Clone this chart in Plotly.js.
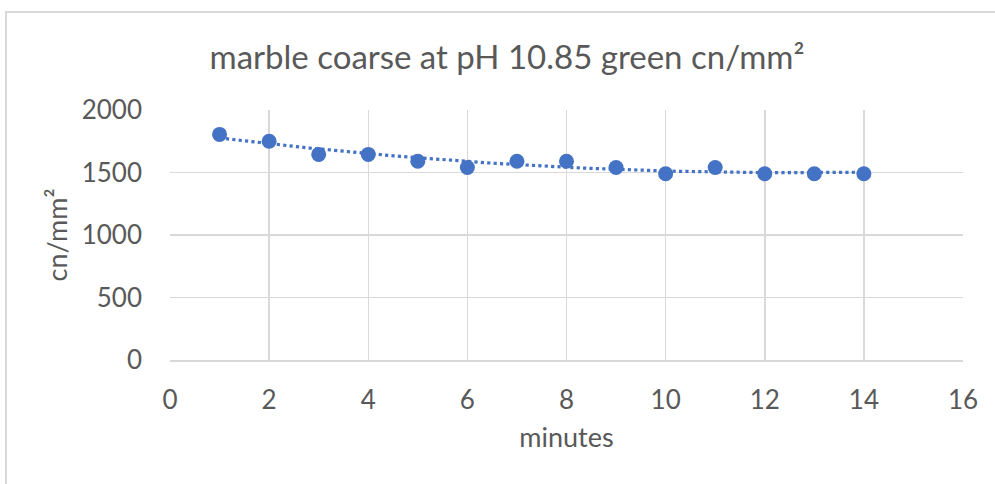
<!DOCTYPE html>
<html>
<head>
<meta charset="utf-8">
<script src="https://cdn.plot.ly/plotly-3.0.1.min.js"></script>
<style>
  html, body { margin: 0; padding: 0; background: #ffffff; }
  #wrap { position: relative; width: 995px; height: 484px; overflow: hidden; }
  #chart { position: absolute; left: 0; top: 0; width: 995px; height: 484px; }
  #frame { position: absolute; left: 5px; top: 11px; width: 1100px; height: 600px;
           border-left: 2px solid #d9d9d9; border-top: 2px solid #d9d9d9; pointer-events: none; }
</style>
</head>
<body>
<div id="wrap">
  <div id="chart"></div>
  <div id="frame"></div>
</div>
<script>
// Measurements: minutes vs. count density (cn/mm²)
const minutes = [1, 2, 3, 4, 5, 6, 7, 8, 9, 10, 11, 12, 13, 14];
const density = [1805, 1750, 1645, 1645, 1590, 1540, 1590, 1590, 1540, 1490, 1540, 1490, 1490, 1490];

const xTicks = [0, 2, 4, 6, 8, 10, 12, 14, 16];
const yTicks = [0, 500, 1000, 1500, 2000];

const chartTitle = 'marble coarse at pH 10.85 green cn/mm²';
const xTitle = 'minutes';
const yTitle = 'cn/mm²';

// Second-order polynomial least-squares fit (trendline)
function polyFit2(xs, ys) {
  let s0 = xs.length, s1 = 0, s2 = 0, s3 = 0, s4 = 0, t0 = 0, t1 = 0, t2 = 0;
  for (let i = 0; i < xs.length; i++) {
    const x = xs[i], y = ys[i];
    s1 += x; s2 += x * x; s3 += x * x * x; s4 += x * x * x * x;
    t0 += y; t1 += x * y; t2 += x * x * y;
  }
  // Solve 3x3 normal equations with Cramer's rule
  const det = (m) => m[0][0] * (m[1][1] * m[2][2] - m[1][2] * m[2][1])
                   - m[0][1] * (m[1][0] * m[2][2] - m[1][2] * m[2][0])
                   + m[0][2] * (m[1][0] * m[2][1] - m[1][1] * m[2][0]);
  const A = [[s0, s1, s2], [s1, s2, s3], [s2, s3, s4]];
  const B = [t0, t1, t2];
  const D = det(A);
  const coef = [0, 1, 2].map(c => det(A.map((row, r) => row.map((v, k) => k === c ? B[r] : v))) / D);
  return x => coef[0] + coef[1] * x + coef[2] * x * x;
}

const fit = polyFit2(minutes, density);
const xMin = minutes[0], xMax = minutes[minutes.length - 1];
const trendX = [], trendY = [];
for (let i = 0; i <= 100; i++) {
  const x = xMin + (xMax - xMin) * i / 100;
  trendX.push(x);
  trendY.push(fit(x));
}

const blue = '#4472c4';
const textGrey = '#595959';
const gridGrey = '#d9d9d9';
const fontFamily = 'Lato, "Open Sans", sans-serif';

const traces = [
  {
    x: trendX, y: trendY, type: 'scatter', mode: 'lines',
    line: { color: blue, width: 3.2, dash: 'dot' },
    hoverinfo: 'skip', showlegend: false
  },
  {
    x: minutes, y: density, type: 'scatter', mode: 'markers',
    marker: { color: blue, size: 15, line: { width: 0 } },
    showlegend: false
  }
];

const layout = {
  width: 995, height: 484,
  margin: { l: 170, r: 32, t: 110, b: 124 },
  paper_bgcolor: 'rgba(0,0,0,0)',
  plot_bgcolor: '#ffffff',
  font: { family: fontFamily, color: textGrey, size: 26 },
  title: {
    text: chartTitle,
    font: { family: fontFamily, size: 33, color: textGrey },
    xref: 'container', yref: 'container',
    x: 507 / 995, xanchor: 'center',
    y: 1 - 57 / 484, yanchor: 'middle'
  },
  xaxis: {
    range: [0, 16], tickmode: 'array', tickvals: xTicks,
    showgrid: true, gridcolor: gridGrey, gridwidth: 1.5,
    zeroline: false, showline: true, linecolor: gridGrey, linewidth: 1.5,
    ticks: '', ticklabelstandoff: 16,
    tickfont: { family: fontFamily, size: 26, color: textGrey },
    title: { text: xTitle, font: { family: fontFamily, size: 27, color: textGrey }, standoff: 14 },
    fixedrange: true
  },
  yaxis: {
    range: [0, 2000], tickmode: 'array', tickvals: yTicks,
    showgrid: true, gridcolor: gridGrey, gridwidth: 1.5,
    zeroline: false, showline: false,
    ticks: '', ticklabelstandoff: 27,
    tickfont: { family: fontFamily, size: 26, color: textGrey },
    title: { text: yTitle, font: { family: fontFamily, size: 27, color: textGrey }, standoff: 6 },
    fixedrange: true
  },
  showlegend: false
};

Plotly.newPlot('chart', traces, layout, { displayModeBar: false, staticPlot: true });
</script>
</body>
</html>
